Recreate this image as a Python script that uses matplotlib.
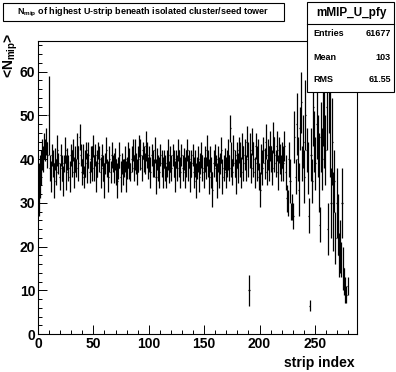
import numpy as np
import matplotlib
matplotlib.use('Agg')
import matplotlib.pyplot as plt
from matplotlib.patches import Rectangle
from matplotlib.lines import Line2D
from matplotlib.ticker import MultipleLocator

plt.rcParams['font.family'] = ['Liberation Sans', 'DejaVu Sans']
plt.rcParams['font.weight'] = 'bold'
plt.rcParams['mathtext.fontset'] = 'custom'
plt.rcParams['mathtext.rm'] = 'Liberation Sans:bold'
plt.rcParams['mathtext.it'] = 'Liberation Sans:bold'
plt.rcParams['mathtext.bf'] = 'Liberation Sans:bold'

# ---- data (profile: mean N_mip per strip, with error) ----
values = [
    33, 36, 38, 41, 40, 43, 42, 44, 41, 50,
    38, 36, 41, 39, 35, 40, 37, 42, 39, 36,
    41, 38, 35, 39, 42, 37, 40, 38, 36, 41,
    39, 42, 37, 40, 38, 43, 39, 45, 41, 37,
    40, 36, 39, 42, 38, 41, 37, 40, 39, 43,
    38, 41, 36, 39, 42, 40, 37, 41, 38, 35,
    39, 42, 38, 36, 40, 37, 41, 39, 38, 40,
    37, 35, 38, 41, 36, 39, 37, 38, 40, 36,
    38, 41, 39, 37, 40, 42, 38, 41, 39, 37,
    40, 43, 41, 38, 42, 40, 39, 43, 41, 38,
    40, 37, 41, 39, 38, 42, 36, 40, 38, 37,
    41, 39, 37, 40, 38, 36, 39, 41, 37, 40,
    38, 41, 39, 36, 40, 38, 42, 39, 37, 41,
    38, 40, 37, 39, 42, 38, 40, 36, 39, 41,
    37, 39, 35, 38, 40, 36, 39, 41, 38, 37,
    40, 38, 42, 39, 36, 40, 37, 33, 39, 41,
    38, 35, 40, 37, 39, 42, 36, 38, 40, 37,
    39, 41, 38, 47, 40, 37, 42, 39, 36, 41,
    38, 42, 40, 37, 43, 39, 41, 38, 44, 40,
    10, 42, 38, 44, 40, 37, 43, 39, 41, 36,
    33, 40, 38, 42, 39, 44, 37, 41, 39, 43,
    40, 38, 45, 41, 39, 43, 37, 42, 40, 38,
    41, 39, 43, 37, 31, 30, 40, 35, 28, 29,
    27, 45, 36, 48, 40, 33, 47, 53, 39, 44,
    36, 50, 42, 38, 27, 6.5, 41, 35, 52, 44,
    39, 48, 43, 37, 25, 45, 40, 55, 47, 42,
    52, 24, 58, 50, 30, 44, 28, 35, 22, 30,
    25, 18, 20, 17, 30, 15, 12, 10, 9, 11,
]
errors = [
    6, 5, 4, 3.5, 3, 3, 2.5, 3, 3, 9,
    3, 3.5, 2.5, 3, 4, 2.5, 3, 3.5, 2.5, 3,
    2.5, 3, 3.5, 2, 3, 4, 2.5, 3, 3.5, 2.5,
    3, 2.5, 3.5, 3, 2, 3, 4, 3, 2.5, 3,
    3.5, 2.5, 3, 2, 3.5, 3, 2.5, 3, 4, 2.5,
    3, 2.5, 3.5, 3, 2, 3, 3.5, 2.5, 3, 4,
    2.5, 3, 2, 3.5, 3, 2.5, 3, 2, 3.5, 2.5,
    3, 4, 2.5, 3, 3.5, 2.5, 3, 2, 3, 3.5,
    2.5, 3, 3.5, 2, 3, 2.5, 3, 3.5, 2.5, 3,
    3, 2.5, 3.5, 3, 2, 3, 2.5, 3.5, 3, 2.5,
    3, 3.5, 2.5, 3, 2, 3, 4, 2.5, 3, 3.5,
    2.5, 3, 3.5, 2, 3, 2.5, 3, 3.5, 2.5, 3,
    3, 2.5, 3, 3.5, 2, 3, 2.5, 3, 3.5, 2.5,
    3, 2.5, 3.5, 3, 2.5, 3, 2, 3.5, 3, 2.5,
    3.5, 3, 4, 2.5, 3, 3.5, 2.5, 3, 3, 3.5,
    3, 2.5, 3.5, 3, 4, 3, 3.5, 4, 3, 2.5,
    3, 4, 3, 3.5, 2.5, 3, 4, 3, 2.5, 3.5,
    3, 3.5, 3, 3, 4, 3, 3.5, 3, 4, 3,
    3.5, 3, 4, 3.5, 3, 4, 3.5, 3, 3.5, 4,
    3.5, 4, 3.5, 3, 4, 3.5, 3, 4, 3.5, 3,
    4, 3.5, 4, 3, 3.5, 4, 3, 3.5, 4, 3.5,
    3, 4, 3.5, 4, 3, 3.5, 4, 3, 3.5, 3,
    3, 4, 3.5, 4, 3, 3, 4, 5, 2, 3,
    3, 6, 4, 7, 5, 6, 5, 7, 4, 6,
    6, 8, 5, 6, 4, 1.3, 6, 5, 9, 7,
    6, 8, 7, 9, 4, 8, 7, 12, 9, 8,
    10, 6, 12, 14, 8, 10, 9, 7, 6, 8,
    7, 5, 6, 4, 8, 5, 3, 3, 2, 2,
]
n_strips = 288
entries = "61677"
mean_txt = "103"
rms_txt = "61.55"

strips = np.arange(len(values)) + 0.5

W, H = 396, 372
fig = plt.figure(figsize=(W / 100, H / 100), dpi=100)
fig.patch.set_facecolor('white')

ax = fig.add_axes([38 / W, 1 - 334 / H, (357 - 38) / W, (334 - 41) / H])
ax.errorbar(strips, values, yerr=errors, xerr=0.5, fmt='none',
            ecolor='black', elinewidth=0.9, capsize=0)
ax.set_xlim(0, n_strips)
ax.set_ylim(0, 67)
ax.xaxis.set_major_locator(MultipleLocator(50))
ax.xaxis.set_minor_locator(MultipleLocator(10))
ax.yaxis.set_major_locator(MultipleLocator(10))
ax.yaxis.set_minor_locator(MultipleLocator(2))
ax.tick_params(which='major', direction='in', length=6.5, width=0.7,
               labelsize=10, pad=2, top=False, right=False)
ax.tick_params(which='minor', direction='in', length=3.2, width=0.7,
               top=False, right=False)
for lab in ax.get_xticklabels() + ax.get_yticklabels():
    lab.set_fontweight('bold')
for sp in ax.spines.values():
    sp.set_linewidth(0.8)

# axis titles
fig.text(355 / W, 1 - 363 / H, 'strip index', ha='right', va='center',
         fontsize=10, fontweight='bold')
fig.text(11 / W, 1 - 33 / H, r'<N$_{\mathrm{mip}}$>', rotation=90,
         ha='center', va='top', fontsize=10, fontweight='bold')

# title box
fig.add_artist(Rectangle((3 / W, 1 - 21 / H), (284 - 3) / W, 18 / H,
                         transform=fig.transFigure, facecolor='white',
                         edgecolor='black', lw=0.8, zorder=5))
fig.text(17 / W, 1 - 12 / H,
         r'N$_{\mathrm{mip}}$ of highest U-strip beneath isolated cluster/seed tower',
         ha='left', va='center', fontsize=6.5, fontweight='bold', zorder=6)

# stats box
fig.add_artist(Rectangle((307 / W, 1 - 92 / H), (394 - 307) / W, 90 / H,
                         transform=fig.transFigure, facecolor='white',
                         edgecolor='black', lw=0.8, zorder=5))
fig.add_artist(Line2D([307 / W, 394 / W], [1 - 24 / H, 1 - 24 / H],
                      transform=fig.transFigure, color='black', lw=0.8, zorder=6))
fig.text(351 / W, 1 - 13 / H, 'mMIP_U_pfy', ha='center', va='center',
         fontsize=8.5, fontweight='bold', zorder=6)
rows = [('Entries', entries, 34), ('Mean', mean_txt, 57), ('RMS', rms_txt, 79)]
for lab, val, yy in rows:
    fig.text(313 / W, 1 - yy / H, lab, ha='left', va='center',
             fontsize=6.5, fontweight='bold', zorder=6)
    fig.text(391 / W, 1 - yy / H, val, ha='right', va='center',
             fontsize=6.5, fontweight='bold', zorder=6)

fig.savefig('out.png', dpi=100)
